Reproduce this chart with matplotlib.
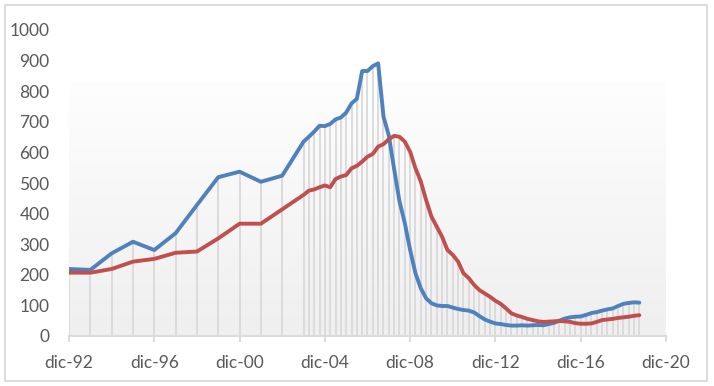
import numpy as np
import matplotlib
matplotlib.use("Agg")
import matplotlib.pyplot as plt
from matplotlib.patches import Rectangle

# ---- data ----
annual_years = list(range(1992, 2004))          # observations at December
quarter_start, quarter_end = (2004, 3), (2019, 9)  # quarterly observations

blue_annual = [219, 216, 270, 308, 281, 336, 428, 519, 537, 504, 524, 635]
red_annual = [207, 207, 219, 243, 252, 272, 276, 319, 367, 367, 414, 461]

blue_quarterly = [
    651, 668, 687, 686,
    693, 708, 714, 730,
    760, 775, 866, 866,
    882, 891, 717, 655,
    545, 440, 369, 281,
    205, 156, 123, 107,
    100, 98, 98, 93,
    88, 85, 83, 77,
    65, 54, 47, 41,
    39, 36, 34, 34,
    35, 34, 35, 36,
    35, 39, 43, 50,
    57, 61, 63, 64,
    69, 75, 78, 83,
    87, 90, 98, 105,
    108, 110, 109,
]
red_quarterly = [
    475, 479, 486, 492,
    486, 513, 521, 526,
    548, 556, 570, 586,
    595, 619, 627, 643,
    654, 651, 635, 602,
    548, 505, 444, 390,
    357, 324, 281, 265,
    243, 205, 189, 167,
    150, 139, 128, 115,
    105, 90, 74, 67,
    62, 56, 52, 48,
    46, 47, 48, 49,
    48, 46, 42, 40,
    40, 41, 46, 52,
    54, 56, 59, 61,
    63, 66, 68,
]

tick_years = [1992, 1996, 2000, 2004, 2008, 2012, 2016, 2020]
tick_labels = ["dic-92", "dic-96", "dic-00", "dic-04", "dic-08", "dic-12", "dic-16", "dic-20"]
y_ticks = list(range(0, 1001, 100))

# ---- build x positions (decimal years) ----
def dec(year, month):
    return year + (month - 1) / 12.0

x_annual = [dec(y, 12) for y in annual_years]
x_quarter = []
y, m = quarter_start
while (y, m) <= quarter_end:
    x_quarter.append(dec(y, m))
    m += 3
    if m > 12:
        m -= 12
        y += 1

x = np.array(x_annual + x_quarter)
blue = np.array(blue_annual + blue_quarterly, dtype=float)
red = np.array(red_annual + red_quarterly, dtype=float)

# ---- figure ----
W, H = 714, 386
fig = plt.figure(figsize=(W / 100, H / 100), dpi=100)
fig.patch.set_facecolor("white")

plt.rcParams["font.family"] = ["Lato", "DejaVu Sans"]

x0, x1 = 69, 666
ytop, ybot = 30, 336
ax = fig.add_axes([x0 / W, (H - ybot) / H, (x1 - x0) / W, (ybot - ytop) / H])
ax.set_facecolor("white")

xmin, xmax = dec(tick_years[0], 12), dec(tick_years[-1], 12)
ax.set_xlim(xmin, xmax)
ax.set_ylim(0, 1000)

# gradient background of plot area
grad = np.linspace(0, 1, 256).reshape(-1, 1)
top_c = np.array([0.995, 0.995, 0.995])
bot_c = np.array([0.937, 0.937, 0.937])
img = top_c[None, None, :] * (1 - grad[:, :, None]) + bot_c[None, None, :] * grad[:, :, None]
ax.imshow(img, extent=[xmin, xmax, 0, 830], aspect="auto", origin="upper", zorder=0)

# drop lines
ax.vlines(x, 0, np.maximum(blue, red), colors="#d9d9d9", lw=1.3, zorder=1)

ax.plot(x, blue, color="#4F81BD", lw=2.8, solid_joinstyle="round", solid_capstyle="round", zorder=3)
ax.plot(x, red, color="#C0504D", lw=2.8, solid_joinstyle="round", solid_capstyle="round", zorder=4)

for s in ["top", "right", "left"]:
    ax.spines[s].set_visible(False)
ax.spines["bottom"].set_color("#d9d9d9")
ax.spines["bottom"].set_linewidth(1.3)

ax.set_xticks([dec(t, 12) for t in tick_years])
ax.set_xticklabels(tick_labels)
ax.set_yticks(y_ticks)
ax.set_yticklabels([str(v) for v in y_ticks])
ax.tick_params(axis="x", length=4.5, width=1.3, color="#d9d9d9", labelcolor="#595959",
               labelsize=12.5, pad=9)
ax.tick_params(axis="y", length=0, labelcolor="#595959", labelsize=12.5, pad=14)

# chart border
fig.add_artist(Rectangle((5 / W, 5 / H), 702 / W, 376 / H, transform=fig.transFigure,
                         fill=False, ec="#d9d9d9", lw=1.3))

fig.savefig("out.png", dpi=100)
